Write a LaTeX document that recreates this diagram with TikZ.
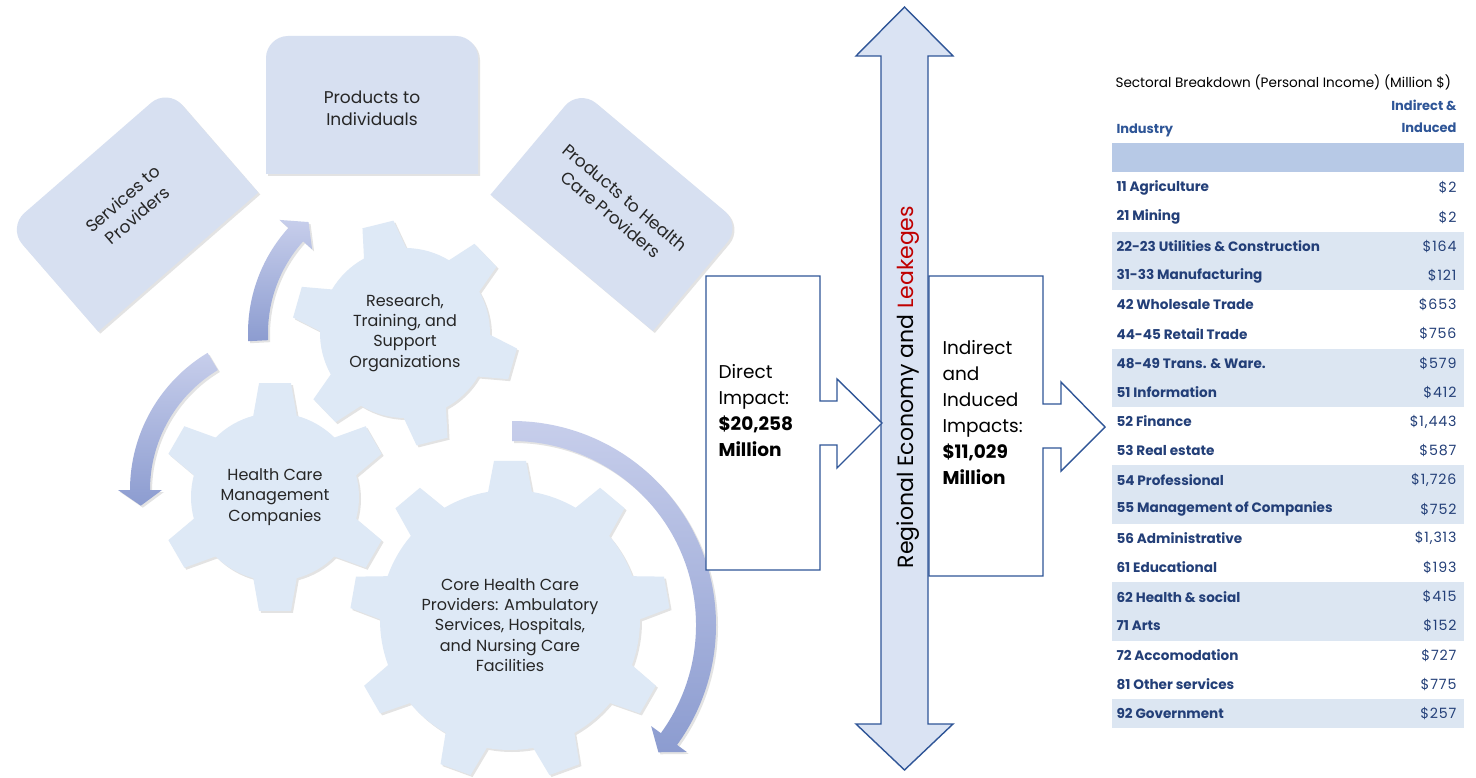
\documentclass[tikz,border=0pt]{standalone}
\usepackage{fontspec}
\setmainfont{Poppins}
\newfontfamily\valuefont{Poppins}[LetterSpace=6]
\usetikzlibrary{arrows.meta,shadows,positioning}

\definecolor{cardblue}{HTML}{D7E0F1}
\definecolor{cogblue}{HTML}{DEE9F6}
\definecolor{swirltop}{HTML}{C7CEEB}
\definecolor{swirlbot}{HTML}{8C9CD0}
\definecolor{edgeblue}{HTML}{2F5597}
\definecolor{shaftblue}{HTML}{DAE3F3}
\definecolor{rowshade}{HTML}{DCE6F2}
\definecolor{headshade}{HTML}{B7C9E6}
\definecolor{inkblue}{HTML}{233F78}
\definecolor{headblue}{HTML}{2E5597}
\definecolor{leakred}{HTML}{C00000}
\definecolor{labelgray}{HTML}{262626}

\tikzset{
  softshadow/.style={drop shadow={shadow xshift=2pt, shadow yshift=-2pt, opacity=0.22}},
  cardfill/.style={fill=cardblue, softshadow},
  cogfill/.style={fill=cogblue, softshadow},
  swirlshade/.style={top color=swirltop, bottom color=swirlbot, softshadow},
  cardlabel/.style={align=center, text=labelgray, font=\fontsize{17}{22}\selectfont},
  coglabel/.style={align=center, text=labelgray, font=\fontsize{16}{20.3}\selectfont},
  callout/.style={draw=edgeblue, line width=1.4pt, fill=white},
  impactlabel/.style={align=left, anchor=west, font=\fontsize{18.5}{26}\selectfont},
  rowlabel/.style={anchor=west, text=inkblue, font=\bfseries\fontsize{13.6}{15}\selectfont},
  rowvalue/.style={anchor=east, text=inkblue, font=\valuefont\fontsize{14.2}{15}\selectfont},
  colhead/.style={text=headblue, font=\bfseries\fontsize{13}{15}\selectfont}
}

% rounded-top card, centre and rotation
\newcommand{\card}[2]{%
  \fill[cardfill, shift={#1}, rotate=#2]
    (-106,69) -- (-106,-47) .. controls (-106,-59) and (-96,-69) .. (-84,-69)
    -- (84,-69) .. controls (96,-69) and (106,-59) .. (106,-47) -- (106,69) -- cycle;}

% cog: centre, teeth, body radius, tip radius, first tooth angle
\newcommand{\cogwheel}[5]{%
  \pgfmathsetmacro\cogstep{360/#2}
  \pgfmathsetmacro\cogbase{22/#3*180/pi}
  \pgfmathsetmacro\cogtip{16/#4*180/pi}
  \fill[cogfill, shift={#1}] ({#5-\cogstep/2}:#3)
    \foreach \k in {1,...,#2}{
      arc[start angle={#5+(\k-1.5)*\cogstep}, end angle={#5+(\k-1)*\cogstep-\cogbase}, radius=#3]
      -- ({#5+(\k-1)*\cogstep-\cogtip}:#4) -- ({#5+(\k-1)*\cogstep+\cogtip}:#4)
      -- ({#5+(\k-1)*\cogstep+\cogbase}:#3)
      arc[start angle={#5+(\k-1)*\cogstep+\cogbase}, end angle={#5+(\k-0.5)*\cogstep}, radius=#3]
    } -- cycle;}

% curved arrow: centre, radius, start angle, head base angle, tip angle
\newcommand{\swirl}[5]{%
  \shade[swirlshade, shift={#1}]
    ({#3}:{#2+10}) arc[start angle=#3, end angle=#4, radius=#2+10]
    -- ({#4}:{#2+22}) -- ({#5}:#2) -- ({#4}:{#2-22}) -- ({#4}:{#2-10})
    arc[start angle=#4, end angle=#3, radius=#2-10] -- cycle;}

\begin{document}
\begin{tikzpicture}[x=1pt,y=-1pt]
\useasboundingbox (0,0) rectangle (1476,778);
\fill[white] (0,0) rectangle (1476,778);

% the three product / service cards
\card{(133,210)}{41}
\card{(372,105)}{0}
\card{(616,210)}{-40}
\node[cardlabel, rotate=41] (svc) at (130,207) {Services to\\Providers};
\node[cardlabel] (prodind) at (372,108) {Products to\\Individuals};
\node[cardlabel, rotate=-40] (prodhcp) at (618,206) {Products to Health\\Care Providers};

% cogs
\coordinate (g1) at (405,333);
\coordinate (g2) at (275,497);
\coordinate (g3) at (510,620);
\cogwheel{(g1)}{6}{85}{113}{-104}
\cogwheel{(g2)}{6}{84}{115}{-90}
\cogwheel{(g3)}{9}{130}{160}{-90}
\node[coglabel] (research) at (g1) {Research,\\Training, and\\Support\\Organizations};
\node[coglabel] (mgmt) at (g2) {Health Care\\Management\\Companies};
\node[coglabel] (core) at ([yshift=-5]g3) {Core Health Care\\Providers: Ambulatory\\Services, Hospitals,\\and Nursing Care\\Facilities};

% curved arrows round the cogs
\coordinate (s1) at (g1);
\coordinate (s2) at (290,490);
\coordinate (s3) at (512,625);
\swirl{(s1)}{147}{177}{222}{229}
\swirl{(s2)}{150}{239}{180}{174}
\swirl{(s3)}{194}{-90}{36}{41}

% regional economy double arrow
\fill[shaftblue, draw=edgeblue, line width=1.4pt]
  (904.5,7) -- (953,56) -- (928,56) -- (928,724) -- (953,724) -- (904.5,770)
  -- (856,724) -- (881,724) -- (881,56) -- (856,56) -- cycle;
\node[rotate=90, font=\fontsize{22}{24}\selectfont] (region) at (908,387)
  {Regional Economy and \textcolor{leakred}{Leakeges}};

% impact callouts
\draw[callout] (706,276) -- (820,276) -- (820,401) -- (837,401) -- (837,379) -- (882,423)
  -- (837,468) -- (837,445) -- (820,445) -- (820,570) -- (706,570) -- cycle;
\draw[callout] (929,276) -- (1043,276) -- (1043,404) -- (1061,404) -- (1061,382) -- (1105,427)
  -- (1061,471) -- (1061,448) -- (1043,448) -- (1043,576) -- (929,576) -- cycle;
\node[impactlabel] (direct) at (715,411)
  {Direct\\Impact:\\\textbf{\$20,258}\\\textbf{Million}};
\node[impactlabel] (indirect) at (939,413)
  {Indirect\\and\\Induced\\Impacts:\\\textbf{\$11,029}\\\textbf{Million}};

% sectoral table
\node[anchor=west, font=\fontsize{13.6}{15}\selectfont] (title) at (1112,82)
  {Sectoral Breakdown (Personal Income) (Million \$)};
\node[colhead, anchor=east] (colA) at (1460,105) {Indirect \&};
\node[colhead, anchor=east] (colB) at (1460,128) {Induced};
\node[colhead, anchor=west] (industry) at (1113,130) {Industry};
\fill[headshade] (1112,143) rectangle (1464,172);
\foreach \i in {2,6,10,14}
  \fill[rowshade] (1112,{173.4+29.2*\i}) rectangle (1464,{173.4+29.2*(\i+2)});
\fill[rowshade] (1112,{173.4+29.2*18}) rectangle (1464,{173.4+29.2*19});
\foreach \lab/\val [count=\i from 0] in {
    11 Agriculture/\$2, 21 Mining/\$2,
    22-23 Utilities \& Construction/\$164, 31-33 Manufacturing/\$121,
    42 Wholesale Trade/\$653, 44-45 Retail Trade/\$756,
    48-49 Trans. \& Ware./\$579, 51 Information/\$412,
    52 Finance/{\$1,443}, 53 Real estate/\$587,
    54 Professional/{\$1,726}, 55 Management of Companies/\$752,
    56 Administrative/{\$1,313}, 61 Educational/\$193,
    62 Health \& social/\$415, 71 Arts/\$152,
    72 Accomodation/\$727, 81 Other services/\$775,
    92 Government/\$257}{
  \node[rowlabel] (row\i) at (1113,{188+29.2*\i}) {\lab};
  \node[rowvalue] (val\i) at (1460,{188+29.2*\i}) {\val};
}
\end{tikzpicture}
\end{document}
